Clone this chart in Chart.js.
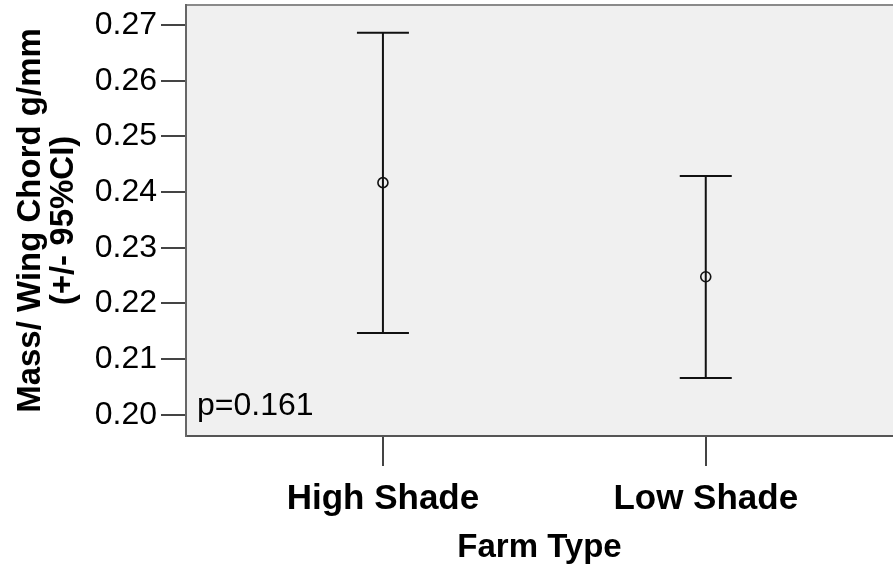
<!DOCTYPE html>
<html>
<head>
<meta charset="utf-8">
<script src="https://cdn.jsdelivr.net/npm/chart.js@4.4.1/dist/chart.umd.min.js"></script>
<style>
  html, body { margin: 0; padding: 0; background: #fff; }
  #wrap { width: 893px; height: 571px; position: relative; }
</style>
</head>
<body>
<div id="wrap"><canvas id="chart"></canvas></div>
<script>
// Datos del gráfico (media +/- IC 95%)
const categories = ['High Shade', 'Low Shade'];
const xPositions = [1, 2];
const means = [0.2417, 0.2248];
const upperCI = [0.2686, 0.2429];
const lowerCI = [0.2147, 0.2066];
const yTicks = [0.20, 0.21, 0.22, 0.23, 0.24, 0.25, 0.26, 0.27];
const pValueText = 'p=0.161';

const FONT = "'Liberation Sans', Arial, sans-serif";

// fondo gris del área de trazado + borde superior
const plotBackground = {
  id: 'plotBackground',
  beforeDraw(chart) {
    const { ctx, chartArea: a } = chart;
    ctx.save();
    ctx.fillStyle = '#f0f0f0';
    ctx.fillRect(a.left, a.top, a.right - a.left, a.bottom - a.top);
    ctx.strokeStyle = '#8a8a8a';
    ctx.lineWidth = 2;
    ctx.beginPath();
    ctx.moveTo(a.left, a.top);
    ctx.lineTo(a.right, a.top);
    ctx.stroke();
    ctx.restore();
  }
};

// barras de error
const errorBars = {
  id: 'errorBars',
  beforeDatasetsDraw(chart) {
    const { ctx, scales } = chart;
    const xs = scales.x, ys = scales.y;
    ctx.save();
    ctx.strokeStyle = '#111';
    ctx.lineWidth = 2;
    xPositions.forEach((xv, i) => {
      const x = xs.getPixelForValue(xv);
      const yU = ys.getPixelForValue(upperCI[i]);
      const yL = ys.getPixelForValue(lowerCI[i]);
      const half = 26;
      ctx.beginPath();
      ctx.moveTo(x, yU); ctx.lineTo(x, yL);
      ctx.moveTo(x - half, yU); ctx.lineTo(x + half, yU);
      ctx.moveTo(x - half, yL); ctx.lineTo(x + half, yL);
      ctx.stroke();
    });
    ctx.restore();
  },
  afterDraw(chart) {
    const { ctx, chartArea: a } = chart;
    ctx.save();
    ctx.fillStyle = '#000';
    ctx.font = '32px ' + FONT;
    ctx.textBaseline = 'alphabetic';
    ctx.textAlign = 'left';
    ctx.fillText(pValueText, a.left + 11, a.bottom - 21);
    ctx.restore();
  }
};

const ctx = document.getElementById('chart');
new Chart(ctx, {
  type: 'scatter',
  data: {
    datasets: [{
      data: xPositions.map((x, i) => ({ x: x, y: means[i] })),
      pointRadius: 5,
      pointHoverRadius: 5,
      pointBorderWidth: 1.6,
      pointBorderColor: '#111',
      pointBackgroundColor: 'rgba(0,0,0,0)',
      showLine: false,
    }]
  },
  options: {
    responsive: true,
    maintainAspectRatio: false,
    animation: false,
    layout: { autoPadding: false, padding: { top: 5, right: 0, bottom: 0, left: 0 } },
    plugins: {
      legend: { display: false },
      tooltip: { enabled: false }
    },
    scales: {
      x: {
        type: 'linear',
        min: 0.39,
        max: 2.58,
        afterBuildTicks: s => { s.ticks = xPositions.map(v => ({ value: v })); },
        afterFit: s => { s.height = 135; s.paddingLeft = 0; s.paddingRight = 0; },
        border: { display: true, color: '#555', width: 2 },
        grid: { drawOnChartArea: false, drawTicks: true, tickLength: 30, color: '#444', lineWidth: 2 },
        ticks: {
          color: '#000',
          padding: 12,
          maxRotation: 0,
          autoSkip: false,
          font: { family: FONT, size: 35, weight: 'bold' },
          callback: v => categories[xPositions.indexOf(v)]
        },
        title: {
          display: true,
          text: 'Farm Type',
          color: '#000',
          padding: { top: 0, bottom: 3 },
          font: { family: FONT, size: 33, weight: 'bold' }
        }
      },
      y: {
        min: 0.1962,
        max: 0.2736,
        afterBuildTicks: s => { s.ticks = yTicks.map(v => ({ value: v })); },
        afterFit: s => { s.width = 186; s.paddingTop = 0; s.paddingBottom = 0; },
        border: { display: true, color: '#666', width: 2 },
        grid: { drawOnChartArea: false, drawTicks: true, tickLength: 25, color: '#444', lineWidth: 2 },
        ticks: {
          color: '#000',
          padding: 4,
          font: { family: FONT, size: 32 },
          callback: v => v.toFixed(2)
        },
        title: {
          display: true,
          text: ['Mass/ Wing Chord g/mm', '(+/- 95%CI)'],
          color: '#000',
          padding: { top: 14, bottom: 0 },
          font: { family: FONT, size: 33, weight: 'bold', lineHeight: 1.0 }
        }
      }
    }
  },
  plugins: [plotBackground, errorBars]
});
</script>
</body>
</html>
